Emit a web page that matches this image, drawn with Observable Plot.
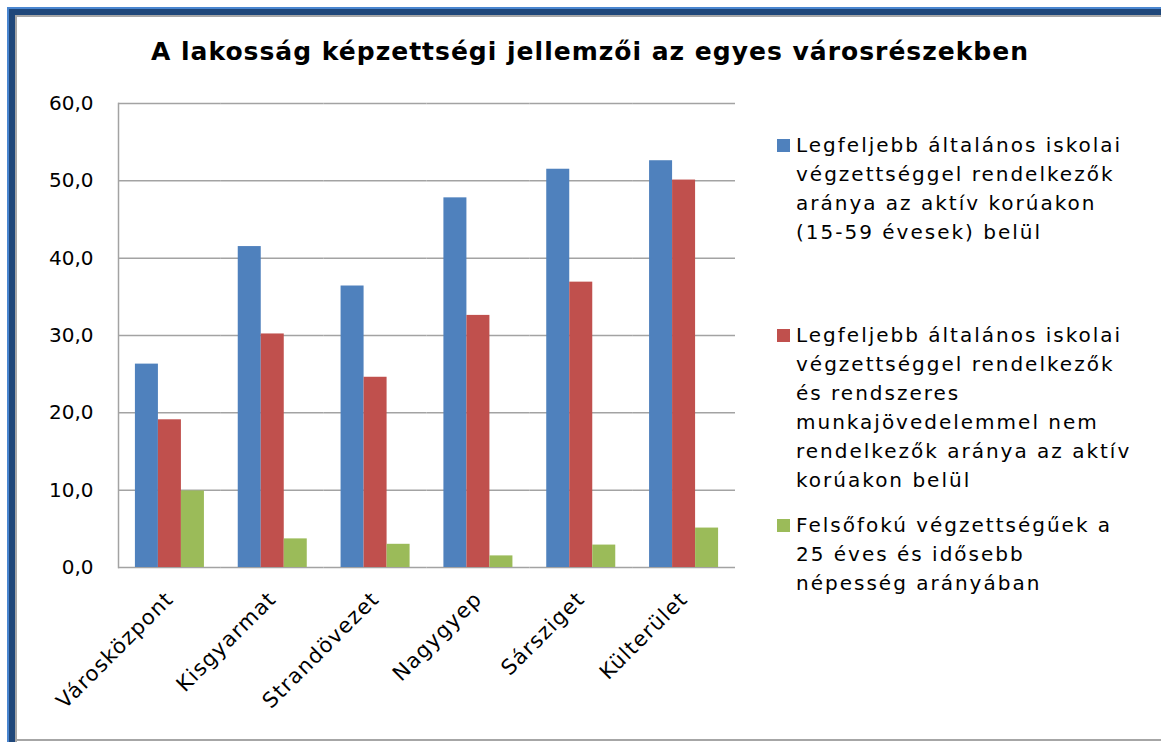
<!DOCTYPE html>
<html>
<head>
<meta charset="utf-8">
<script src="https://cdn.jsdelivr.net/npm/d3@7"></script>
<script src="https://cdn.jsdelivr.net/npm/@observablehq/plot@0.6"></script>
<style>
  html, body { margin: 0; padding: 0; background: #fff; }
  #wrap { position: relative; width: 1161px; height: 742px; overflow: hidden; background: #fff; font-family: "DejaVu Sans", Verdana, sans-serif; }
  .b { position: absolute; }
  #title { position: absolute; left: 0; width: 1180px; top: 37px; line-height: 30px; text-align: center; font-weight: bold; font-size: 25px; letter-spacing: 1px; color: #000; white-space: nowrap; }
  #chart { position: absolute; left: 0; top: 80px; }
  .leg { position: absolute; left: 777px; font-size: 20px; line-height: 29px; color: #000; white-space: nowrap; }
  .leg .sw { position: absolute; left: 0; top: 8px; width: 13px; height: 13px; }
  .leg .tx { margin-left: 19px; letter-spacing: 2px; }
</style>
</head>
<body>
<div id="wrap">
  <div class="b" style="left:7px;top:7px;width:2px;height:735px;background:#4a86d0"></div>
  <div class="b" style="left:7px;top:7px;width:1154px;height:2px;background:#4a86d0"></div>
  <div class="b" style="left:9px;top:9px;width:6px;height:733px;background:#1f477a"></div>
  <div class="b" style="left:9px;top:9px;width:1152px;height:6px;background:#1f477a"></div>
  <div class="b" style="left:15px;top:15px;width:2px;height:727px;background:#a6a6a6"></div>
  <div class="b" style="left:15px;top:15px;width:1146px;height:2px;background:#a6a6a6"></div>
  <div class="b" style="left:15px;top:739px;width:1146px;height:2px;background:#a6a6a6"></div>
  <div id="title">A lakosság képzettségi jellemzői az egyes városrészekben</div>
  <div id="chart"></div>
  <div id="legend"></div>
</div>
<script>
const categories = ["Városközpont", "Kisgyarmat", "Strandövezet", "Nagygyep", "Sársziget", "Külterület"];
const seriesNames = [
  "Legfeljebb általános iskolai végzettséggel rendelkezők aránya az aktív korúakon (15-59 évesek) belül",
  "Legfeljebb általános iskolai végzettséggel rendelkezők és rendszeres munkajövedelemmel nem rendelkezők aránya az aktív korúakon belül",
  "Felsőfokú végzettségűek a 25 éves és idősebb népesség arányában"
];
const legendLines = [
  ["Legfeljebb általános iskolai", "végzettséggel rendelkezők", "aránya az aktív korúakon", "(15-59 évesek) belül"],
  ["Legfeljebb általános iskolai", "végzettséggel rendelkezők", "és rendszeres", "munkajövedelemmel nem", "rendelkezők aránya az aktív", "korúakon belül"],
  ["Felsőfokú végzettségűek a", "25 éves és idősebb", "népesség arányában"]
];
const seriesColors = ["#4f81bd", "#c0504d", "#9bbb59"];
const basicEdu = [26.3, 41.5, 36.4, 47.8, 51.5, 52.6];
const basicEduNoIncome = [19.1, 30.2, 24.6, 32.6, 36.9, 50.1];
const higherEdu = [9.9, 3.7, 3.0, 1.5, 2.9, 5.1];
const yTicks = [0, 10, 20, 30, 40, 50, 60];

const seriesValues = [basicEdu, basicEduNoIncome, higherEdu];
const data = categories.flatMap((c, i) => seriesNames.map((s, j) => ({cat: c, ser: s, value: seriesValues[j][i]})));

const chart = Plot.plot({
  width: 760,
  height: 660,
  marginLeft: 118,
  marginRight: 25,
  marginTop: 23,
  marginBottom: 173,
  style: {fontFamily: "DejaVu Sans", fontSize: "20px", color: "#000", background: "transparent", overflow: "visible"},
  fx: {domain: categories, padding: 0, round: false, label: null, tickRotate: -45, tickSize: 0, tickPadding: 28},
  x: {domain: seriesNames, axis: null, round: false, paddingInner: 0, paddingOuter: 0.735},
  y: {domain: [0, 60], ticks: yTicks, tickFormat: d => d.toFixed(1).replace(".", ","), tickSize: 0, tickPadding: 25, label: null},
  color: {domain: seriesNames, range: seriesColors},
  marks: [
    Plot.ruleY(yTicks, {stroke: "#a3a3a3", strokeWidth: 1.5}),
    Plot.barY(data, {fx: "cat", x: "ser", y: "value", fill: "ser"}),
    Plot.frame({anchor: "left", facet: "super", stroke: "#a3a3a3", strokeWidth: 1.5})
  ]
});
document.getElementById("chart").appendChild(chart);
// enlarge the rotated category labels slightly, as in the reference
chart.querySelectorAll('g[aria-label="fx-axis tick label"] text').forEach(t => { t.style.fontSize = "21px"; t.style.letterSpacing = "1.2px"; });

const legendTops = [131, 321, 511];
const legend = document.getElementById("legend");
seriesNames.forEach((s, j) => {
  const item = document.createElement("div");
  item.className = "leg";
  item.style.top = legendTops[j] + "px";
  const sw = document.createElement("div");
  sw.className = "sw";
  sw.style.background = seriesColors[j];
  item.appendChild(sw);
  const tx = document.createElement("div");
  tx.className = "tx";
  tx.innerHTML = legendLines[j].join("<br>");
  item.appendChild(tx);
  legend.appendChild(item);
});
</script>
</body>
</html>
